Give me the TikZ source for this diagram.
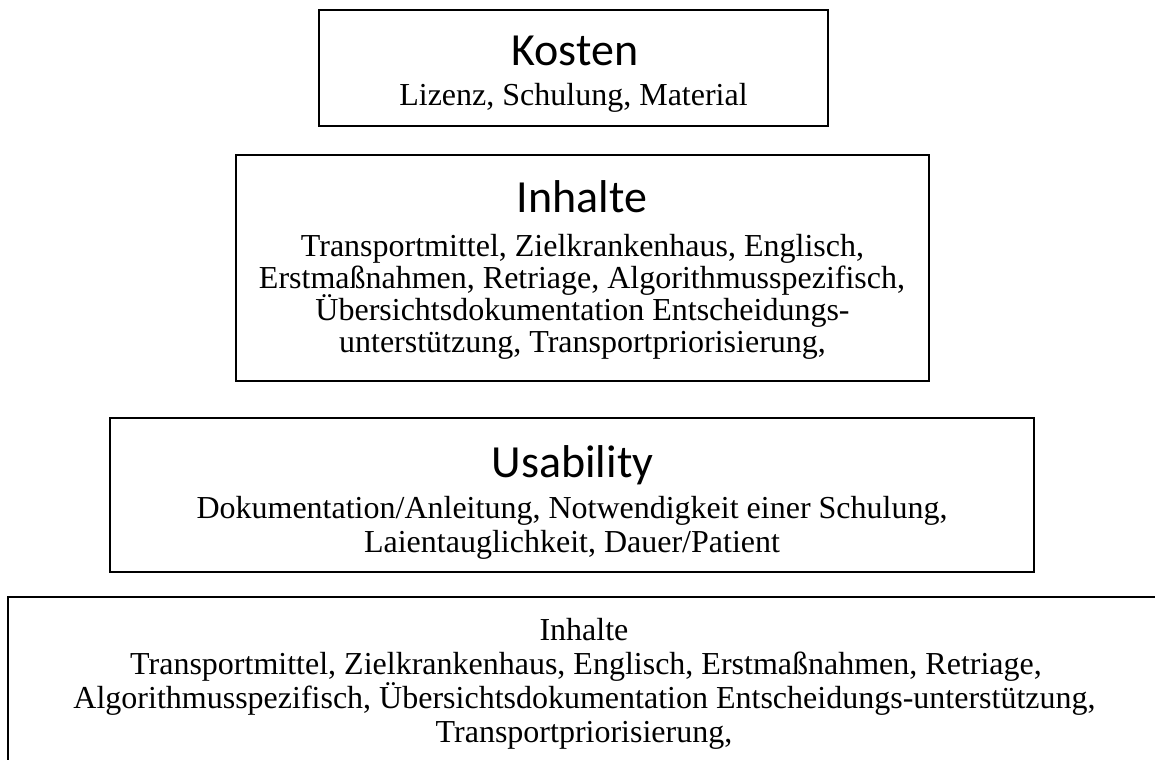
\documentclass[tikz,border=0pt]{standalone}
\usepackage{fontspec}
\setmainfont{Liberation Serif}
\newfontfamily\titlefont{Carlito}
\begin{document}
\begin{tikzpicture}[x=1bp,y=-1bp,
  frame/.style={draw,line width=2.6bp,rectangle,inner sep=0pt,outer sep=0pt},
  title/.style={font=\titlefont\fontsize{46bp}{50bp}\selectfont,anchor=base,inner sep=0pt},
  body/.style={font=\fontsize{32bp}{34bp}\selectfont,anchor=base,inner sep=0pt}]
\clip (0,0) rectangle (1155,760);

% frames of the four levels
\node[frame,minimum width=509bp,minimum height=116bp] (kosten) at (573.5,68) {};
\node[frame,minimum width=693bp,minimum height=226bp] (inhalte) at (582.5,268) {};
\node[frame,minimum width=924bp,minimum height=154bp] (usability) at (572,495) {};
\node[frame,minimum width=1162bp,minimum height=183bp] (basis) at (589,688.5) {};

% Kosten
\node[title] (kostenT) at (575,66) {Kosten};
\node[body] (kostenA) at (573.5,106) {Lizenz, Schulung, Material};

% Inhalte
\node[title] (inhalteT) at (582,212) {Inhalte};
\node[body] (inhalteA) at (582.5,256) {Transportmittel, Zielkrankenhaus, Englisch,};
\node[body] (inhalteB) at (582,288) {Erstmaßnahmen, Retriage, Algorithmusspezifisch,};
\node[body] (inhalteC) at (582.5,320) {Übersichtsdokumentation Entscheidungs-};
\node[body] (inhalteD) at (582.5,352) {unterstützung, Transportpriorisierung,};

% Usability
\node[title] (usabilityT) at (572.5,477) {Usability};
\node[body] (usabilityA) at (572,518) {Dokumentation/Anleitung, Notwendigkeit einer Schulung,};
\node[body] (usabilityB) at (572,552) {Laientauglichkeit, Dauer/Patient};

% Basis
\node[body] (basisT) at (584,640) {Inhalte};
\node[body] (basisA) at (586,674) {Transportmittel, Zielkrankenhaus, Englisch, Erstmaßnahmen, Retriage,};
\node[body] (basisB) at (584.5,708) {Algorithmusspezifisch, Übersichtsdokumentation Entscheidungs-unterstützung,};
\node[body] (basisC) at (584,742) {Transportpriorisierung,};
\end{tikzpicture}
\end{document}
